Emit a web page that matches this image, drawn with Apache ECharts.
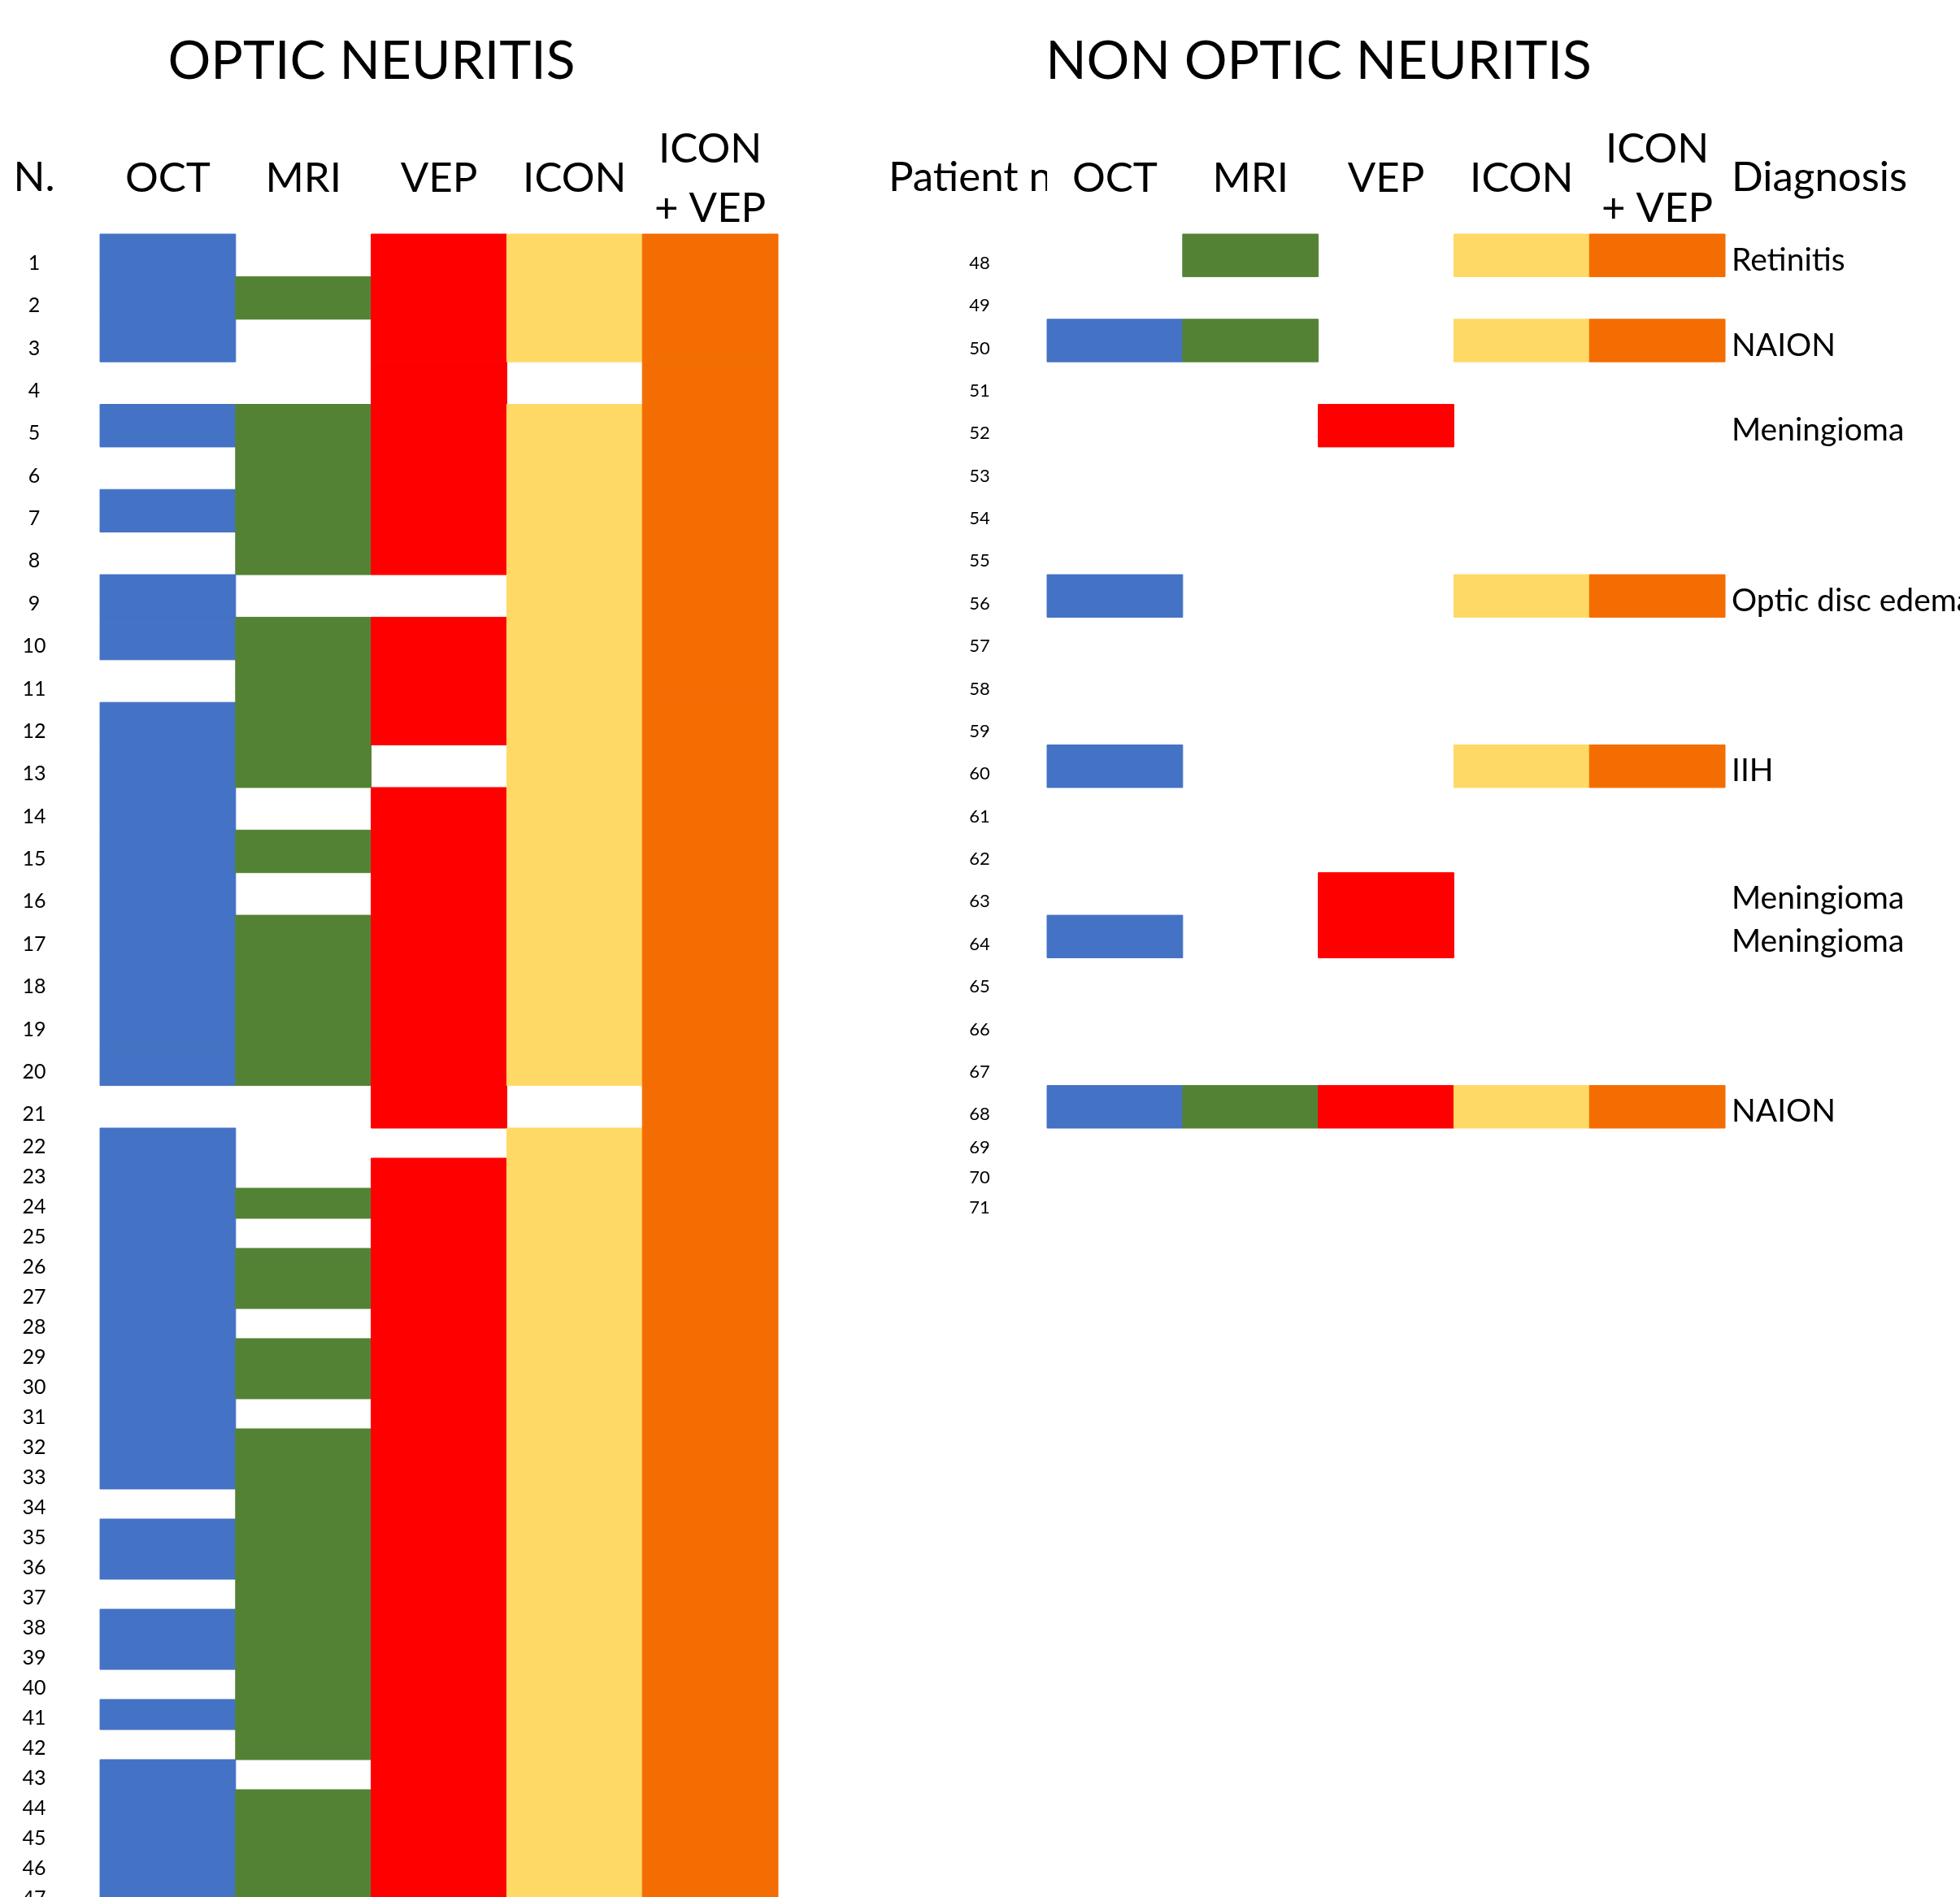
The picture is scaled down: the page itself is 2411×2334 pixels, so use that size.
<!DOCTYPE html>
<html>
<head>
<meta charset="utf-8">
<title>Optic neuritis / non optic neuritis</title>
<script src="https://cdn.jsdelivr.net/npm/echarts@6/dist/echarts.min.js"></script>
<style>
  html, body { margin: 0; padding: 0; background: #ffffff; }
  #chart { width: 2411px; height: 2334px; }
</style>
</head>
<body>
<div id="chart"></div>
<script>
  // columns of both tables
  const tests = ['OCT', 'MRI', 'VEP', 'ICON', 'ICON\n+ VEP'];
  const testColors = ['#4472C4', '#548235', '#FF0000', '#FFD966', '#F46D02'];

  // optic neuritis, patients 1-47 (1 = positive)
  const onPatients = [1, 2, 3, 4, 5, 6, 7, 8, 9, 10, 11, 12, 13, 14, 15, 16, 17, 18, 19, 20, 21, 22, 23, 24,
    25, 26, 27, 28, 29, 30, 31, 32, 33, 34, 35, 36, 37, 38, 39, 40, 41, 42, 43, 44, 45, 46, 47];
  const onOct = [1, 1, 1, 0, 1, 0, 1, 0, 1, 1, 0, 1, 1, 1, 1, 1, 1, 1, 1, 1, 0, 1, 1, 1,
    1, 1, 1, 1, 1, 1, 1, 1, 1, 0, 1, 1, 0, 1, 1, 0, 1, 0, 1, 1, 1, 1, 1];
  const onMri = [0, 1, 0, 0, 1, 1, 1, 1, 0, 1, 1, 1, 1, 0, 1, 0, 1, 1, 1, 1, 0, 0, 0, 1,
    0, 1, 1, 0, 1, 1, 0, 1, 1, 1, 1, 1, 1, 1, 1, 1, 1, 1, 0, 1, 1, 1, 1];
  const onVep = [1, 1, 1, 1, 1, 1, 1, 1, 0, 1, 1, 1, 0, 1, 1, 1, 1, 1, 1, 1, 1, 0, 1, 1,
    1, 1, 1, 1, 1, 1, 1, 1, 1, 1, 1, 1, 1, 1, 1, 1, 1, 1, 1, 1, 1, 1, 1];
  const onIcon = [1, 1, 1, 0, 1, 1, 1, 1, 1, 1, 1, 1, 1, 1, 1, 1, 1, 1, 1, 1, 0, 1, 1, 1,
    1, 1, 1, 1, 1, 1, 1, 1, 1, 1, 1, 1, 1, 1, 1, 1, 1, 1, 1, 1, 1, 1, 1];
  const onIconVep = [1, 1, 1, 1, 1, 1, 1, 1, 1, 1, 1, 1, 1, 1, 1, 1, 1, 1, 1, 1, 1, 1, 1, 1,
    1, 1, 1, 1, 1, 1, 1, 1, 1, 1, 1, 1, 1, 1, 1, 1, 1, 1, 1, 1, 1, 1, 1];

  // non optic neuritis, patients 48-71
  const nonPatients = [48, 49, 50, 51, 52, 53, 54, 55, 56, 57, 58, 59, 60, 61, 62, 63, 64, 65, 66, 67, 68, 69, 70, 71];
  const nonOct = [0, 0, 1, 0, 0, 0, 0, 0, 1, 0, 0, 0, 1, 0, 0, 0, 1, 0, 0, 0, 1, 0, 0, 0];
  const nonMri = [1, 0, 1, 0, 0, 0, 0, 0, 0, 0, 0, 0, 0, 0, 0, 0, 0, 0, 0, 0, 1, 0, 0, 0];
  const nonVep = [0, 0, 0, 0, 1, 0, 0, 0, 0, 0, 0, 0, 0, 0, 0, 1, 1, 0, 0, 0, 1, 0, 0, 0];
  const nonIcon = [1, 0, 1, 0, 0, 0, 0, 0, 1, 0, 0, 0, 1, 0, 0, 0, 0, 0, 0, 0, 1, 0, 0, 0];
  const nonIconVep = [1, 0, 1, 0, 0, 0, 0, 0, 1, 0, 0, 0, 1, 0, 0, 0, 0, 0, 0, 0, 1, 0, 0, 0];
  const nonDiagnosis = ['Retinitis', '', 'NAION', '', 'Meningioma', '', '', '', 'Optic disc edema', '', '', '',
    'IIH', '', '', 'Meningioma', 'Meningioma', '', '', '', 'NAION', '', '', ''];

  // layout: first 21 rows of each table are tall, the rest are short
  const tallRows = 21;
  const tallH = 52.38;
  const shortH = 37;
  const tableTop = 288;
  const tableW = 834;
  const leftX = 123;
  const rightX = 1288;
  const font = 'Lato';

  const onCols = [onOct, onMri, onVep, onIcon, onIconVep];
  const nonCols = [nonOct, nonMri, nonVep, nonIcon, nonIconVep];

  function cells(cols, from, to) {
    let out = [];
    cols.forEach((col, j) => {
      for (let i = from; i < to; i++) {
        if (col[i]) out.push([j, i - from]);
      }
    });
    return out;
  }

  function drawCell(params, api) {
    const p = api.coord([api.value(0), api.value(1)]);
    const s = api.size([1, 1]);
    const color = testColors[api.value(0)];
    return {
      type: 'rect',
      shape: {x: p[0] - s[0] / 2, y: p[1] - s[1] / 2, width: s[0], height: s[1]},
      style: {fill: color, stroke: color, lineWidth: 1}
    };
  }

  function xAxis(gridIndex, showLabels) {
    return {
      type: 'category',
      gridIndex: gridIndex,
      data: tests,
      position: 'top',
      axisLine: {show: false},
      axisTick: {show: false},
      splitLine: {show: false},
      axisLabel: {
        show: showLabels,
        interval: 0,
        margin: 68,
        fontSize: 51,
        lineHeight: 73,
        fontFamily: font,
        color: '#000000',
        verticalAlign: 'middle'
      }
    };
  }

  // labels sit a little below the row middle, like the sheet's bottom-aligned cells:
  // top-aligned text with a small line box pushes the glyphs down by lineHeight / 2
  function yAxis(gridIndex, labels, fontSize, margin, drop) {
    return {
      type: 'category',
      gridIndex: gridIndex,
      inverse: true,
      data: labels.map(String),
      axisLine: {show: false},
      axisTick: {show: false},
      splitLine: {show: false},
      axisLabel: {
        interval: 0,
        align: 'center',
        verticalAlign: 'top',
        lineHeight: drop * 2,
        margin: margin,
        fontSize: fontSize,
        fontFamily: font,
        color: '#000000'
      }
    };
  }

  function series(gridIndex, cols, from, to) {
    return {
      type: 'custom',
      xAxisIndex: gridIndex,
      yAxisIndex: gridIndex,
      renderItem: drawCell,
      data: cells(cols, from, to)
    };
  }

  function text(str, x, y, size, align, z) {
    return {
      type: 'text',
      x: x,
      y: y,
      z: z || 0,
      style: {text: str, fontSize: size, fontFamily: font, fill: '#000000', align: align, verticalAlign: 'middle'}
    };
  }

  const gridBase = {containLabel: false, outerBoundsMode: 'none', width: tableW};

  const option = {
    backgroundColor: '#ffffff',
    animation: false,
    grid: [
      Object.assign({left: leftX, top: tableTop, height: tallRows * tallH}, gridBase),
      Object.assign({left: leftX, top: tableTop + tallRows * tallH, height: (onPatients.length - tallRows) * shortH}, gridBase),
      Object.assign({left: rightX, top: tableTop, height: tallRows * tallH}, gridBase),
      Object.assign({left: rightX, top: tableTop + tallRows * tallH, height: (nonPatients.length - tallRows) * shortH}, gridBase)
    ],
    xAxis: [xAxis(0, true), xAxis(1, false), xAxis(2, true), xAxis(3, false)],
    yAxis: [
      yAxis(0, onPatients.slice(0, tallRows), 25, 81, 9.5),
      yAxis(1, onPatients.slice(tallRows), 25, 81, 4.5),
      yAxis(2, nonPatients.slice(0, tallRows), 22, 83, 9.5),
      yAxis(3, nonPatients.slice(tallRows), 22, 83, 5),
      {
        type: 'category',
        gridIndex: 2,
        position: 'right',
        inverse: true,
        data: nonPatients.slice(0, tallRows).map(String),
        axisLine: {show: false},
        axisTick: {show: false},
        splitLine: {show: false},
        axisLabel: {
          interval: 0,
          align: 'left',
          verticalAlign: 'top',
          lineHeight: 12,
          margin: 8,
          fontSize: 39,
          fontFamily: font,
          color: '#000000',
          formatter: (v, i) => nonDiagnosis[i]
        }
      }
    ],
    graphic: [
      text('OPTIC NEURITIS', 457, 76, 66, 'center'),
      text('NON OPTIC NEURITIS', 1622, 76, 66, 'center'),
      text('N.', 42, 219, 51, 'center'),
      text('Patient number', 1093, 219, 51, 'left', -2),
      // the cell next to it hides the end of the header, as in the sheet
      {type: 'rect', x: rightX, y: 170, z: -1, shape: {width: 240, height: 100}, style: {fill: '#ffffff'}},
      text('Diagnosis', 2130, 219, 51, 'left')
    ],
    series: [
      series(0, onCols, 0, tallRows),
      series(1, onCols, tallRows, onPatients.length),
      series(2, nonCols, 0, tallRows),
      series(3, nonCols, tallRows, nonPatients.length)
    ]
  };

  const myChart = echarts.init(document.getElementById('chart'));
  myChart.setOption(option);
</script>
</body>
</html>
